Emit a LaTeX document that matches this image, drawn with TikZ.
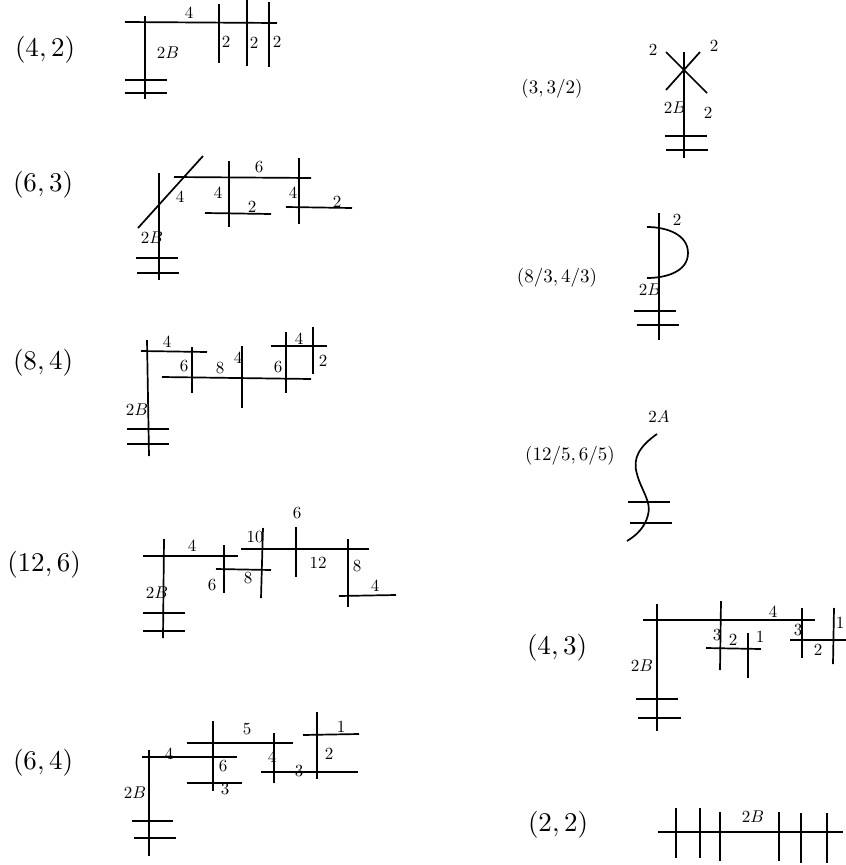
\documentclass[tikz,border=0pt]{standalone}
\begin{document}
\begin{tikzpicture}[x=1pt,y=-1pt,
  ln/.style={line width=1.7pt},
  lab/.style={font=\normalsize, inner sep=0pt, scale=1.7},
  big/.style={font=\normalsize, inner sep=0pt, scale=2.7},
  med/.style={font=\normalsize, inner sep=0pt, scale=1.9}]
\useasboundingbox (0,0) rectangle (846,865);

% ---------- (4,2)
\node[big] (t42) at (45,50) {$(4,2)$};
\draw[ln] (125,22) -- (277,23);
\draw[ln] (145,16) -- (145,99);
\draw[ln] (219,4) -- (219,63);
\draw[ln] (247,0) -- (247,66);
\draw[ln] (269,2) -- (269,67);
\draw[ln] (125,80) -- (167,80);
\draw[ln] (125,93) -- (167,93);
\node[lab] (a1) at (189,13) {$4$};
\node[lab] (a2) at (168,53) {$2B$};
\node[lab] (a3) at (226,42) {$2$};
\node[lab] (a4) at (254,43) {$2$};
\node[lab] (a5) at (277,42) {$2$};

% ---------- (6,3)
\node[big] (t63) at (43,185) {$(6,3)$};
\draw[ln] (159,173) -- (159,280);
\draw[ln] (138,228) -- (203,156);
\draw[ln] (174,177) -- (311,178);
\draw[ln] (229,161) -- (229,227);
\draw[ln] (205,213) -- (271,214);
\draw[ln] (299,158) -- (299,224);
\draw[ln] (286,207) -- (352,208);
\draw[ln] (136,258) -- (178,258);
\draw[ln] (137,273) -- (179,273);
\node[lab] (b1) at (259,167) {$6$};
\node[lab] (b2) at (180,197) {$4$};
\node[lab] (b3) at (218,193) {$4$};
\node[lab] (b4) at (252,207) {$2$};
\node[lab] (b5) at (293,193) {$4$};
\node[lab] (b6) at (337,202) {$2$};
\node[lab] (b7) at (152,238) {$2B$};

% ---------- (8,4)
\node[big] (t84) at (43,363) {$(8,4)$};
\draw[ln] (147,340) -- (149,456);
\draw[ln] (141,351) -- (207,352);
\draw[ln] (192,347) -- (192,393);
\draw[ln] (162,377) -- (311,379);
\draw[ln] (242,346) -- (242,408);
\draw[ln] (286,332) -- (286,393);
\draw[ln] (271,346) -- (327,346);
\draw[ln] (313,327) -- (313,374);
\draw[ln] (127,429) -- (169,429);
\draw[ln] (127,444) -- (169,444);
\node[lab] (c1) at (167,342) {$4$};
\node[lab] (c2) at (184,366) {$6$};
\node[lab] (c3) at (220,368) {$8$};
\node[lab] (c4) at (238,358) {$4$};
\node[lab] (c5) at (278,367) {$6$};
\node[lab] (c6) at (299,339) {$4$};
\node[lab] (c7) at (323,361) {$2$};
\node[lab] (c8) at (137,410) {$2B$};

% ---------- (12,6)
\node[big] (t126) at (44,565) {$(12,6)$};
\draw[ln] (164,539) -- (163,638);
\draw[ln] (143,556) -- (238,556);
\draw[ln] (224,545) -- (224,593);
\draw[ln] (216,569) -- (271,570);
\draw[ln] (263,528) -- (261,598);
\draw[ln] (241,549) -- (369,549);
\draw[ln] (296,527) -- (296,577);
\draw[ln] (348,539) -- (348,607);
\draw[ln] (339,596) -- (396,595);
\draw[ln] (143,613) -- (185,613);
\draw[ln] (143,631) -- (185,631);
\node[lab] (d1) at (192,546) {$4$};
\node[lab] (d2) at (212,585) {$6$};
\node[lab] (d3) at (248,578) {$8$};
\node[lab] (d4) at (255,537) {$10$};
\node[lab] (d5) at (297,513) {$6$};
\node[lab] (d6) at (318,563) {$12$};
\node[lab] (d7) at (357,566) {$8$};
\node[lab] (d8) at (375,586) {$4$};
\node[lab] (d9) at (157,593) {$2B$};

% ---------- (6,4)
\node[big] (t64) at (43,763) {$(6,4)$};
\draw[ln] (149,750) -- (149,856);
\draw[ln] (142,757) -- (237,757);
\draw[ln] (213,721) -- (213,791);
\draw[ln] (187,743) -- (293,743);
\draw[ln] (187,783) -- (242,783);
\draw[ln] (274,733) -- (274,783);
\draw[ln] (261,772) -- (358,772);
\draw[ln] (317,712) -- (317,779);
\draw[ln] (303,735) -- (359,734);
\draw[ln] (132,821) -- (173,821);
\draw[ln] (134,838) -- (176,838);
\node[lab] (e1) at (169,754) {$4$};
\node[lab] (e2) at (223,766) {$6$};
\node[lab] (e3) at (247,729) {$5$};
\node[lab] (e4) at (225,789) {$3$};
\node[lab] (e5) at (272,757) {$4$};
\node[lab] (e6) at (299,771) {$3$};
\node[lab] (e7) at (329,754) {$2$};
\node[lab] (e8) at (341,727) {$1$};
\node[lab] (e9) at (135,793) {$2B$};

% ---------- (3,3/2)
\node[med] (t332) at (552,89) {$(3,3/2)$};
\draw[ln] (684,52) -- (684,158);
\draw[ln] (666,52) -- (707,93);
\draw[ln] (700,52) -- (666,90);
\draw[ln] (665,136) -- (707,136);
\draw[ln] (666,150) -- (708,150);
\node[lab] (f1) at (653,50) {$2$};
\node[lab] (f2) at (714,46) {$2$};
\node[lab] (f3) at (708,113) {$2$};
\node[lab] (f4) at (675,108) {$2B$};

% ---------- (8/3,4/3)
\node[med] (t843) at (557,278) {$(8/3,4/3)$};
\draw[ln] (659,213) -- (659,340);
\draw[ln] (647,227) to[out=0,in=90] (688,253) to[out=-90,in=0] (647,278);
\draw[ln] (634,311) -- (676,311);
\draw[ln] (637,325) -- (679,325);
\node[lab] (g1) at (677,220) {$2$};
\node[lab] (g2) at (650,290) {$2B$};

% ---------- (12/5,6/5)
\node[med] (t1265) at (570,456) {$(12/5,6/5)$};
\draw[ln] (657,434) .. controls (640,446) and (632,458) .. (637,474)
  .. controls (641,490) and (652,502) .. (648,515)
  .. controls (645,527) and (637,535) .. (627,541);
\draw[ln] (628,502) -- (670,502);
\draw[ln] (630,523) -- (672,523);
\node[lab] (h1) at (659,417) {$2A$};

% ---------- (4,3)
\node[big] (t43) at (557,648) {$(4,3)$};
\draw[ln] (657,604) -- (657,731);
\draw[ln] (643,620) -- (815,620);
\draw[ln] (721,601) -- (720,670);
\draw[ln] (706,648) -- (761,649);
\draw[ln] (748,633) -- (748,678);
\draw[ln] (802,608) -- (802,658);
\draw[ln] (790,640) -- (846,640);
\draw[ln] (834,608) -- (833,664);
\draw[ln] (636,699) -- (678,699);
\draw[ln] (638,718) -- (681,718);
\node[lab] (i1) at (773,612) {$4$};
\node[lab] (i2) at (717,635) {$3$};
\node[lab] (i3) at (733,640) {$2$};
\node[lab] (i4) at (760,637) {$1$};
\node[lab] (i5) at (798,630) {$3$};
\node[lab] (i6) at (818,650) {$2$};
\node[lab] (i7) at (840,623) {$1$};
\node[lab] (i8) at (642,666) {$2B$};

% ---------- (2,2)
\node[big] (t22) at (558,825) {$(2,2)$};
\draw[ln] (658,832) -- (843,832);
\draw[ln] (676,808) -- (676,858);
\draw[ln] (700,808) -- (700,858);
\draw[ln] (720,812) -- (720,861);
\draw[ln] (779,812) -- (779,861);
\draw[ln] (801,813) -- (801,863);
\draw[ln] (827,813) -- (827,863);
\node[lab] (j1) at (753,817) {$2B$};
\end{tikzpicture}
\end{document}
